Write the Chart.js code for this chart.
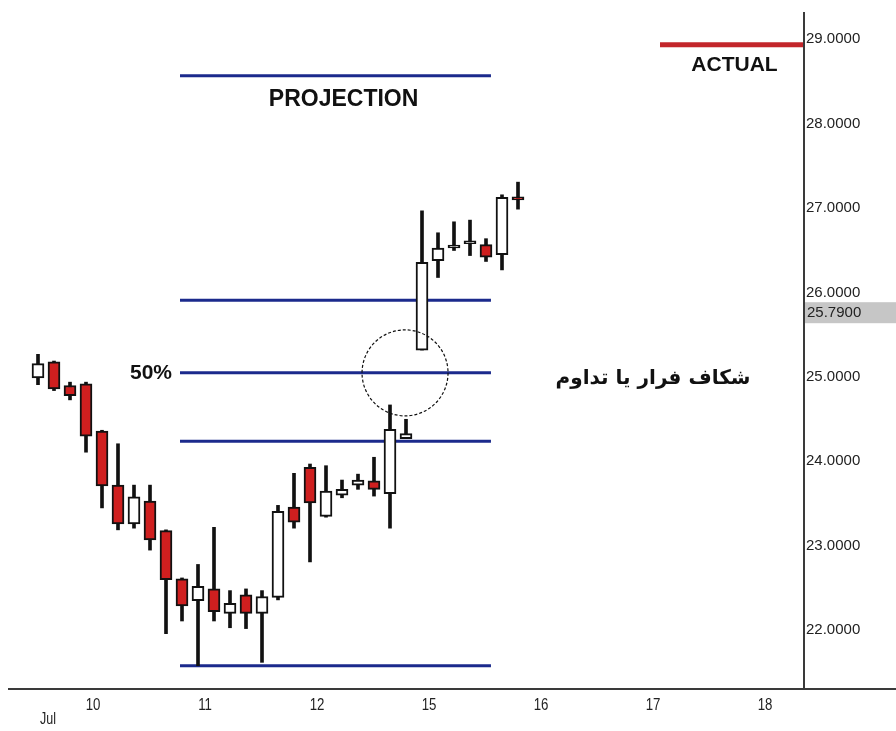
<!DOCTYPE html>
<html><head><meta charset="utf-8">
<script src="https://cdn.jsdelivr.net/npm/chart.js@4.4.1/dist/chart.umd.min.js"></script>
<style>html,body{margin:0;padding:0;background:#fff;overflow:hidden}</style>
</head><body>
<canvas id="c" width="896" height="731"></canvas>
<script>
// ---- data (bar index on x, price on y) ----
const OPEN  = [24.94,25.13,24.85,24.87,24.31,23.67,23.21,23.48,23.13,22.56,22.30,22.44,22.15,22.37,22.15,22.34,23.41,23.88,23.30,23.55,23.67,23.72,23.57,24.22,25.27,26.33,26.48,26.53,26.52,26.40,27.08];
const HIGH  = [25.22,25.14,24.89,24.89,24.32,24.16,23.67,23.67,23.14,22.57,22.73,23.17,22.42,22.44,22.42,23.43,23.81,23.92,23.90,23.73,23.80,24.00,24.62,24.45,26.92,26.66,26.79,26.81,26.59,27.11,27.26];
const LOW   = [24.86,24.79,24.68,24.06,23.40,23.14,23.16,22.90,21.91,22.06,21.53,22.06,21.98,21.97,21.57,22.31,23.16,22.76,23.29,23.52,23.62,23.54,23.16,24.22,25.27,26.13,26.45,26.39,26.32,26.22,26.94];
const CLOSE = [25.11,24.81,24.73,24.25,23.66,23.21,23.53,23.02,22.55,22.24,22.47,22.17,22.27,22.15,22.35,23.36,23.23,23.46,23.60,23.62,23.73,23.62,24.33,24.28,26.31,26.48,26.49,26.54,26.37,27.08,27.05];

const DAY_LABELS   = ['10','11','12','15','16','17','18'];
const DAY_TICK_POS = [3.44,10.44,17.44,24.44,31.44,38.44,45.44];
const MONTH_LABEL  = 'Jul';
const PRICE_TICKS  = [22,23,24,25,26,27,28,29];
const LAST_PRICE   = 25.79;

const LEVELS       = [28.52, 25.86, 25.00, 24.19, 21.53];   // projection / retracement lines
const LEVEL_FROM   = 8.875, LEVEL_TO = 28.31;
const ACTUAL_LEVEL = 28.887;
const ACTUAL_FROM  = 38.875;
const X_MIN = -1.625, X_MAX = 47.8125;
const Y_MIN = 21.266, Y_MAX = 29.276;
const CIRCLE_AT = [22.94, 25.0];

const TEXTS = [
  {t:'PROJECTION', x:19.1,  y:28.24, font:'bold 23px "Liberation Sans", Arial, sans-serif', align:'center'},
  {t:'ACTUAL',     x:43.53, y:28.65, font:'bold 21px "Liberation Sans", Arial, sans-serif', align:'center'},
  {t:'50%',        x:8.375, y:25.0,  font:'bold 21px "Liberation Sans", Arial, sans-serif', align:'right'},
  {t:'شکاف فرار یا تداوم', x:38.44, y:24.93, font:'bold 20px "DejaVu Sans", sans-serif', align:'center'}
];

const NARROW = '"Liberation Sans Narrow", "Arial Narrow", "Liberation Sans", sans-serif';

const idx = OPEN.map((_, i) => i);
const wickData = idx.map(i => ({x: i, y: [LOW[i], HIGH[i]]}));
const bodyData = idx.map(i => ({x: i, y: [OPEN[i], CLOSE[i]]}));
const levelSets = LEVELS.map(v => ({
  type: 'line', order: 3,
  data: [{x: LEVEL_FROM, y: v}, {x: LEVEL_TO, y: v}],
  borderColor: '#1b2a8c', borderWidth: 3, pointRadius: 0, tension: 0
}));

function condensedText(ctx, text, px, py, sx) {
  ctx.save();
  ctx.translate(px, py);
  ctx.scale(sx, 1);
  ctx.fillText(text, 0, 0);
  ctx.restore();
}

const annot = {
  id: 'annot',
  afterDatasetsDraw(chart) {
    const {ctx, scales: {x, y}} = chart;
    ctx.save();
    ctx.beginPath();
    ctx.setLineDash([3, 2]);
    ctx.lineWidth = 1.2;
    ctx.strokeStyle = '#111';
    ctx.arc(x.getPixelForValue(CIRCLE_AT[0]), y.getPixelForValue(CIRCLE_AT[1]), 43, 0, Math.PI * 2);
    ctx.stroke();
    ctx.setLineDash([]);
    ctx.fillStyle = '#111';
    ctx.textBaseline = 'middle';
    TEXTS.forEach(o => {
      ctx.font = o.font;
      ctx.textAlign = o.align;
      ctx.fillText(o.t, x.getPixelForValue(o.x), y.getPixelForValue(o.y));
    });
    ctx.restore();
  },
  afterDraw(chart) {
    const {ctx, chartArea: a, scales: {x, y}} = chart;
    ctx.save();
    ctx.fillStyle = '#3a3a3a';
    ctx.fillRect(a.left - 4, a.bottom, chart.width - a.left + 4, 2);
    ctx.fillRect(a.right, a.top, 2, a.bottom - a.top);
    // last price box
    const yc = y.getPixelForValue(LAST_PRICE) + 6;
    ctx.fillStyle = '#c6c6c6';
    ctx.fillRect(a.right + 2, yc - 10, chart.width - a.right - 2, 21);
    ctx.fillStyle = '#222';
    ctx.font = '15px "Liberation Sans", Arial, sans-serif';
    ctx.textAlign = 'left';
    ctx.textBaseline = 'middle';
    ctx.fillText(LAST_PRICE.toFixed(4), a.right + 4, yc + 1);
    // day labels (condensed) and month
    ctx.font = '17px ' + NARROW;
    ctx.textAlign = 'center';
    DAY_TICK_POS.forEach((v, k) => condensedText(ctx, DAY_LABELS[k], x.getPixelForValue(v), a.bottom + 17, 0.78));
    ctx.font = '16px ' + NARROW;
    condensedText(ctx, MONTH_LABEL, 48, a.bottom + 32, 0.78);
    ctx.restore();
  }
};

new Chart(document.getElementById('c'), {
  type: 'bar',
  data: {
    datasets: [
      {
        label: 'body', order: 1, grouped: false, data: bodyData,
        barThickness: 12, minBarLength: 3, borderSkipped: false,
        borderWidth: 2, borderColor: '#111',
        backgroundColor: ctx => (CLOSE[ctx.dataIndex] >= OPEN[ctx.dataIndex] ? '#ffffff' : '#cf1f1f')
      },
      {
        label: 'wick', order: 2, grouped: false, data: wickData,
        barThickness: 3, borderWidth: 0, backgroundColor: '#111', borderSkipped: false
      },
      ...levelSets,
      {
        type: 'line', order: 3,
        data: [{x: ACTUAL_FROM, y: ACTUAL_LEVEL}, {x: X_MAX, y: ACTUAL_LEVEL}],
        borderColor: '#c3262b', borderWidth: 5, pointRadius: 0
      }
    ]
  },
  options: {
    responsive: false, animation: false, devicePixelRatio: 1,
    layout: {padding: {left: 12, top: 8, right: 0, bottom: 0}},
    plugins: {legend: {display: false}, tooltip: {enabled: false}},
    scales: {
      x: {
        type: 'linear', position: 'bottom', min: X_MIN, max: X_MAX, offset: false,
        grid: {display: false, drawTicks: false}, border: {display: false},
        afterBuildTicks: s => { s.ticks = DAY_TICK_POS.map(v => ({value: v})); },
        afterFit: s => { s.height = 43; },
        ticks: {display: false}
      },
      y: {
        type: 'linear', position: 'right', min: Y_MIN, max: Y_MAX,
        grid: {display: false, drawTicks: false}, border: {display: false},
        afterBuildTicks: s => { s.ticks = PRICE_TICKS.map(v => ({value: v})); },
        afterFit: s => { s.width = 93; },
        ticks: {
          padding: 3, labelOffset: 4, color: '#222',
          font: {family: '"Liberation Sans", Arial, sans-serif', size: 15},
          callback: v => Number(v).toFixed(4)
        }
      }
    }
  },
  plugins: [annot]
});
</script>
</body></html>
